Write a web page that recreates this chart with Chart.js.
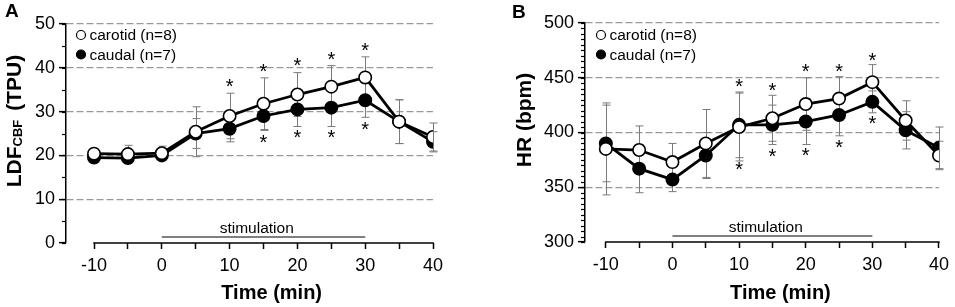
<!DOCTYPE html>
<html>
<head>
<meta charset="utf-8">
<script src="https://cdn.jsdelivr.net/npm/chart.js@4"></script>
<style>
  html, body { margin: 0; padding: 0; background: #fff; }
  #wrap { position: relative; width: 955px; height: 307px; overflow: hidden; }
  .panel { position: absolute; top: 0; height: 307px; }
  #panelA { left: 0; width: 480px; }
  #panelB { left: 480px; width: 475px; }
</style>
</head>
<body>
<div id="wrap">
  <div class="panel" id="panelA"><canvas id="chartA" width="480" height="307"></canvas></div>
  <div class="panel" id="panelB"><canvas id="chartB" width="475" height="307"></canvas></div>
</div>
<script>
// Time axis (min)
const timePoints = [-10, -5, 0, 5, 10, 15, 20, 25, 30, 35, 40];
const xTickValues = [-10, -5, 0, 5, 10, 15, 20, 25, 30, 35, 40];
const stimulation = [0, 30];

// Panel A: LDF CBF (TPU)
const ldfCarotid    = [20.4, 20.3, 20.5, 25.4, 29.0, 31.8, 33.9, 35.7, 37.8, 27.7, 24.2];
const ldfCarotidErr = [0.9, 2.0, 1.6, 5.7, 5.2, 5.9, 5.0, 4.8, 4.7, 5.0, 3.2];
const ldfCaudal     = [19.5, 19.4, 20.0, 25.0, 26.1, 29.0, 30.5, 30.9, 32.6, 27.7, 23.1];
const ldfCaudalErr  = [0.8, 0.9, 1.0, 3.4, 3.0, 3.3, 3.9, 4.3, 3.9, 5.0, 2.3];
const ldfStarsAbove = [null, null, null, null, 36.5, 40.0, 41.3, 42.8, 44.8, null, null];
const ldfStarsBelow = [null, null, null, null, null, 23.7, 25.0, 24.8, 26.8, null, null];
const ldfTicks = [0, 10, 20, 30, 40, 50];

// Panel B: HR (bpm)
const hrCarotid    = [385, 384, 373, 390, 405, 413, 426, 431, 446, 411, 379];
const hrCarotidErr = [42, 22, 17, 31, 31, 21, 24, 20, 16, 18, 13];
const hrCaudal     = [390, 367, 357, 379, 407, 407, 410, 416, 428, 402, 386];
const hrCaudalErr  = [35, 22, 11, 21, 30, 18, 21, 19, 10, 17, 19];
const hrStarsAbove = [null, null, null, null, 445, 442, 458.5, 458.5, 469, null, null];
const hrStarsBelow = [null, null, null, null, 369, 381, 382, 389.5, 411, null, null];
const hrTicks = [300, 350, 400, 450, 500];

const seriesNames = ['carotid (n=8)', 'caudal (n=7)'];

const FONT = '"Liberation Sans", Arial, Helvetica, sans-serif';

function toPoints(values) {
    return timePoints.map((t, i) => ({ x: t, y: values[i] }));
}

function minorTicks(min, max, step) {
    const out = [];
    for (let v = min; v <= max; v += step) out.push(v);
    return out;
}

// Drawing of error bars, axis decorations, legend and labels
const panelDeco = {
    id: 'panelDeco',
    beforeDatasetsDraw(chart, args, opts) {
        const { ctx, scales: { x, y } } = chart;
        ctx.save();
        ctx.strokeStyle = '#7a7a7a';
        ctx.lineWidth = 1;
        opts.errors.forEach(s => {
            timePoints.forEach((t, i) => {
                const px = Math.round(x.getPixelForValue(t)) + 0.5;
                const top = y.getPixelForValue(s.mean[i] + s.err[i]);
                const bot = y.getPixelForValue(s.mean[i] - s.err[i]);
                ctx.beginPath();
                ctx.moveTo(px, top); ctx.lineTo(px, bot);
                ctx.moveTo(px - 4, top); ctx.lineTo(px + 4, top);
                ctx.moveTo(px - 4, bot); ctx.lineTo(px + 4, bot);
                ctx.stroke();
            });
        });
        ctx.restore();
    },
    afterDraw(chart, args, opts) {
        const { ctx, chartArea, scales: { x, y } } = chart;
        ctx.save();

        // minor ticks on y axis
        ctx.strokeStyle = '#000';
        ctx.lineWidth = 1.2;
        opts.yMinor.forEach(v => {
            const py = Math.round(y.getPixelForValue(v)) + 0.5;
            ctx.beginPath();
            ctx.moveTo(chartArea.left - 4, py);
            ctx.lineTo(chartArea.left, py);
            ctx.stroke();
        });

        // x axis line, only across the data range
        ctx.lineWidth = 1.5;
        ctx.beginPath();
        ctx.moveTo(x.getPixelForValue(xTickValues[0]) - 0.75, chartArea.bottom);
        ctx.lineTo(x.getPixelForValue(xTickValues[xTickValues.length - 1]) + 0.75, chartArea.bottom);
        ctx.stroke();

        // stimulation bar
        const sy = chartArea.bottom - 6;
        ctx.strokeStyle = '#808080';
        ctx.lineWidth = 2;
        ctx.beginPath();
        ctx.moveTo(x.getPixelForValue(stimulation[0]), sy);
        ctx.lineTo(x.getPixelForValue(stimulation[1]), sy);
        ctx.stroke();
        ctx.fillStyle = '#000';
        ctx.font = '15.5px ' + FONT;
        ctx.textAlign = 'center';
        ctx.textBaseline = 'alphabetic';
        ctx.fillText('stimulation', x.getPixelForValue(14), sy - 4);

        // x title
        ctx.font = 'bold 20px ' + FONT;
        ctx.fillText('Time (min)', x.getPixelForValue(16.2), 299);

        // y title (rotated)
        ctx.save();
        ctx.translate(opts.yTitleX, opts.yTitleY);
        ctx.rotate(-Math.PI / 2);
        ctx.textAlign = 'left';
        const parts = opts.yTitle;
        let total = 0;
        parts.forEach(p => {
            ctx.font = p.font;
            total += ctx.measureText(p.text).width + (p.gap || 0);
        });
        let cx = -total / 2;
        parts.forEach(p => {
            ctx.font = p.font;
            cx += p.gap || 0;
            ctx.fillText(p.text, cx, p.dy || 0);
            cx += ctx.measureText(p.text).width;
        });
        ctx.restore();

        // panel letter
        ctx.font = 'bold 19px ' + FONT;
        ctx.textAlign = 'left';
        ctx.fillText(opts.letter, opts.letterX, opts.letterY);

        // legend
        ctx.font = '15.5px ' + FONT;
        ctx.textBaseline = 'middle';
        seriesNames.forEach((name, i) => {
            const ly = opts.legendY + i * 19.5;
            ctx.beginPath();
            ctx.arc(opts.legendX, ly, 4.5, 0, Math.PI * 2);
            ctx.fillStyle = i === 0 ? '#fff' : '#000';
            ctx.fill();
            ctx.strokeStyle = '#000';
            ctx.lineWidth = 1.2;
            ctx.stroke();
            ctx.fillStyle = '#000';
            ctx.fillText(name, opts.legendX + 8.5, ly + 1);
        });

        // significance asterisks
        ctx.font = '20px ' + FONT;
        ctx.textAlign = 'center';
        ctx.textBaseline = 'alphabetic';
        const m = ctx.measureText('*');
        const shift = (m.actualBoundingBoxAscent - m.actualBoundingBoxDescent) / 2;
        [opts.starsAbove, opts.starsBelow].forEach(arr => {
            arr.forEach((v, i) => {
                if (v === null) return;
                ctx.fillText('*', x.getPixelForValue(timePoints[i]), y.getPixelForValue(v) + shift);
            });
        });

        ctx.restore();
    }
};

function makePanel(canvasId, cfg) {
    const tickFont = { family: FONT, size: 18 };
    return new Chart(document.getElementById(canvasId), {
        type: 'scatter',
        data: {
            datasets: [
                {
                    label: seriesNames[0],
                    data: toPoints(cfg.carotid),
                    showLine: true,
                    borderColor: '#000',
                    borderWidth: 2.8,
                    pointRadius: 6.2,
                    pointBorderWidth: 1.6,
                    pointBackgroundColor: '#fff',
                    pointBorderColor: '#000',
                    order: 0
                },
                {
                    label: seriesNames[1],
                    data: toPoints(cfg.caudal),
                    showLine: true,
                    borderColor: '#000',
                    borderWidth: 2.8,
                    pointRadius: 6.2,
                    pointBorderWidth: 1.6,
                    pointBackgroundColor: '#000',
                    pointBorderColor: '#000',
                    order: 1
                }
            ]
        },
        options: {
            responsive: false,
            animation: false,
            events: [],
            layout: { padding: { top: cfg.area.top, right: cfg.area.right, left: 0, bottom: 0 } },
            plugins: {
                legend: { display: false },
                tooltip: { enabled: false },
                panelDeco: cfg.deco
            },
            scales: {
                x: {
                    type: 'linear',
                    min: cfg.xMin,
                    max: 40,
                    afterBuildTicks: s => { s.ticks = xTickValues.map(v => ({ value: v })); },
                    afterFit: s => { s.height = cfg.area.xHeight; },
                    grid: { drawOnChartArea: false, drawTicks: true, tickLength: 6, tickColor: '#000', tickWidth: 1.5 },
                    border: { display: false },
                    ticks: {
                        callback: v => (v % 10 === 0 ? String(v) : ''),
                        font: tickFont,
                        color: '#000',
                        padding: 6,
                        maxRotation: 0,
                        autoSkip: false
                    }
                },
                y: {
                    min: cfg.yTicks[0],
                    max: cfg.yTicks[cfg.yTicks.length - 1],
                    afterBuildTicks: s => { s.ticks = cfg.yTicks.map(v => ({ value: v })); },
                    afterFit: s => { s.width = cfg.area.left; },
                    grid: {
                        color: c => (c.tick && c.tick.value > cfg.yTicks[0] ? '#9a9a9a' : 'rgba(0,0,0,0)'),
                        lineWidth: 1.3,
                        tickColor: '#000',
                        tickLength: 7,
                        tickWidth: 1.5
                    },
                    border: { display: true, color: '#000', width: 1.5, dash: [7, 3] },
                    ticks: { font: tickFont, color: '#000', padding: 4 }
                }
            }
        },
        plugins: [panelDeco]
    });
}

makePanel('chartA', {
    carotid: ldfCarotid,
    caudal: ldfCaudal,
    xMin: -14.13,
    yTicks: ldfTicks,
    area: { top: 24, right: 47, left: 66, xHeight: 64 },
    deco: {
        errors: [
            { mean: ldfCaudal, err: ldfCaudalErr },
            { mean: ldfCarotid, err: ldfCarotidErr }
        ],
        starsAbove: ldfStarsAbove,
        starsBelow: ldfStarsBelow,
        yMinor: minorTicks(0, 50, 5),
        yTitle: [
            { text: 'LDF', font: 'bold 21px ' + FONT },
            { text: 'CBF', font: 'bold 13px ' + FONT, dy: 1 },
            { text: '(TPU)', font: 'bold 21px ' + FONT, gap: 9 }
        ],
        yTitleX: 21,
        yTitleY: 121,
        letter: 'A',
        letterX: 5,
        letterY: 17,
        legendX: 81,
        legendY: 35
    }
});

makePanel('chartB', {
    carotid: hrCarotid,
    caudal: hrCaudal,
    xMin: -13.125,
    yTicks: hrTicks,
    area: { top: 23, right: 13, left: 105, xHeight: 65 },
    deco: {
        errors: [
            { mean: hrCaudal, err: hrCaudalErr },
            { mean: hrCarotid, err: hrCarotidErr }
        ],
        starsAbove: hrStarsAbove,
        starsBelow: hrStarsBelow,
        yMinor: minorTicks(300, 500, 5),
        yTitle: [
            { text: 'HR (bpm)', font: 'bold 21px ' + FONT }
        ],
        yTitleX: 51,
        yTitleY: 120,
        letter: 'B',
        letterX: 32,
        letterY: 18,
        legendX: 121,
        legendY: 35
    }
});
</script>
</body>
</html>
